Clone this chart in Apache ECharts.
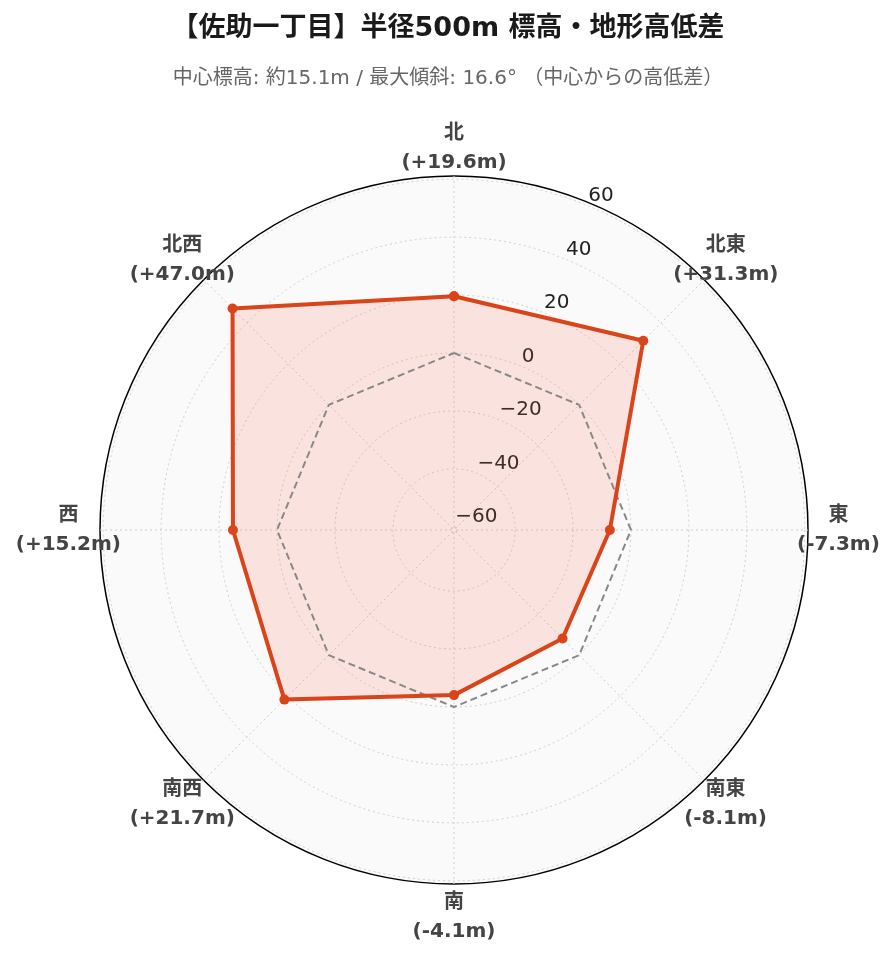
<!DOCTYPE html>
<html>
<head>
<meta charset="utf-8">
<script src="https://cdn.jsdelivr.net/npm/echarts@6/dist/echarts.min.js"></script>
<style>
html,body{margin:0;padding:0;background:#fff;}
#chart{width:896px;height:962px;}
</style>
</head>
<body>
<div id="chart"></div>
<script>
// ---- data ----
const categories = ['北', '北東', '東', '南東', '南', '南西', '西', '北西'];
const diffValues = [19.6, 31.3, -7.3, -8.1, -4.1, 21.7, 15.2, 47.0];
const diffLabels = ['(+19.6m)', '(+31.3m)', '(-7.3m)', '(-8.1m)', '(-4.1m)', '(+21.7m)', '(+15.2m)', '(+47.0m)'];
const baselineValues = [0, 0, 0, 0, 0, 0, 0, 0];
const radialTicks = [-60, -40, -20, 0, 20, 40, 60];
const radialMin = -61.1;
const radialMax = 61.1;
const titleText = '【佐助一丁目】半径500m 標高・地形高低差';
const subtitleText = '中心標高: 約15.1m / 最大傾斜: 16.6° （中心からの高低差）';

// ---- styles ----
const labelPadding = {
  '北': [0, 0, 53, 0], '南': [58, 0, 0, 0], '東': [0, 0, 0, 43], '西': [0, 33, 0, 0],
  '北東': [0, 0, 29, 7], '南東': [33, 0, 0, 18], '南西': [33, 7, 0, 0], '北西': [0, 7, 29, 0]
};
const CENTER = [454, 530];
const RADIUS = 354;
const FONT_LATIN_CJK = "'DejaVu Sans', 'Noto Sans CJK JP'";

function closed(vals) {
  const d = vals.map((v, i) => [v, categories[i]]);
  d.push([vals[0], categories[0]]);
  return d;
}

const chart = echarts.init(document.getElementById('chart'), null, { renderer: 'canvas' });
const gridLine = { color: '#cfcfcf', width: 1, type: [2, 3] };
const hiddenRadius = (idx) => ({
  polarIndex: idx, type: 'value', min: radialMin, max: radialMax,
  axisLine: { show: false }, axisTick: { show: false }, axisLabel: { show: false }, splitLine: { show: false }
});
const option = {
  backgroundColor: '#ffffff',
  animation: false,
  title: [
    { text: titleText, left: 'center', top: 10,
      textStyle: { fontSize: 27, fontWeight: 'bold', color: '#1a1a1a', fontFamily: FONT_LATIN_CJK } },
    { text: subtitleText, left: 'center', top: 64,
      textStyle: { fontSize: 20, fontWeight: 'normal', color: '#666666', fontFamily: FONT_LATIN_CJK } }
  ],
  polar: [
    { center: CENTER, radius: RADIUS },
    { center: CENTER, radius: RADIUS },
    { center: CENTER, radius: RADIUS }
  ],
  angleAxis: [
    {
      // direction labels + spokes
      polarIndex: 0, type: 'category', startAngle: 90, clockwise: true, boundaryGap: false,
      data: categories.map(c => ({ value: c, textStyle: { padding: labelPadding[c] } })),
      axisLine: { show: false },
      axisTick: { show: false },
      splitLine: { show: true, lineStyle: gridLine },
      splitArea: { show: false },
      axisLabel: {
        show: true, margin: -54,
        formatter: (v) => '{a|' + v + '}\n{a|' + diffLabels[categories.indexOf(v)] + '}',
        rich: { a: { align: 'center', fontSize: 20, fontWeight: 'bold', color: '#444444', lineHeight: 29,
                     fontFamily: FONT_LATIN_CJK } }
      }
    },
    {
      // background, outer circle, radial tick labels
      polarIndex: 1, type: 'value', min: 0, max: 360, startAngle: 67.5, z: -1,
      axisLine: { show: true, lineStyle: { color: '#000', width: 1.5 } },
      axisTick: { show: false },
      axisLabel: { show: false },
      splitLine: { show: false },
      splitArea: { show: true, areaStyle: { color: ['#fafafa'] } }
    },
    {
      // data coordinate system (full 360° extent)
      polarIndex: 2, type: 'category', data: categories, startAngle: 112.5, clockwise: true, boundaryGap: true,
      axisLine: { show: false }, axisTick: { show: false }, axisLabel: { show: false },
      splitLine: { show: false }, splitArea: { show: false }
    }
  ],
  radiusAxis: [
    hiddenRadius(0),
    {
      polarIndex: 1, type: 'value', min: radialMin, max: radialMax,
      axisLine: { show: false },
      axisTick: { show: false, customValues: radialTicks },
      splitLine: { show: true, lineStyle: gridLine },
      axisLabel: {
        show: true, customValues: radialTicks, margin: 0, align: 'left', verticalAlign: 'bottom',
        lineHeight: 20, fontSize: 20, color: '#222222', fontFamily: "'DejaVu Sans'",
        formatter: v => (v < 0 ? '\u2212' + Math.abs(v) : String(v))
      }
    },
    hiddenRadius(2)
  ],
  series: [
    {
      name: 'area', type: 'line', coordinateSystem: 'polar', polarIndex: 2, clip: false,
      data: closed(diffValues), symbol: 'none', silent: true, z: 2,
      lineStyle: { width: 0, opacity: 0 },
      areaStyle: { color: 'rgba(255,99,71,0.21)', origin: 'start' }
    },
    {
      name: 'baseline', type: 'line', coordinateSystem: 'polar', polarIndex: 2, clip: false,
      data: closed(baselineValues), symbol: 'none', z: 3,
      lineStyle: { color: '#888888', width: 2, type: [7, 4] }
    },
    {
      name: '高低差', type: 'line', coordinateSystem: 'polar', polarIndex: 2, clip: false,
      data: closed(diffValues), symbol: 'circle', symbolSize: 10, z: 4,
      itemStyle: { color: '#d9441a' },
      lineStyle: { color: '#d9441a', width: 4 }
    }
  ]
};
chart.setOption(option);
</script>
</body>
</html>
